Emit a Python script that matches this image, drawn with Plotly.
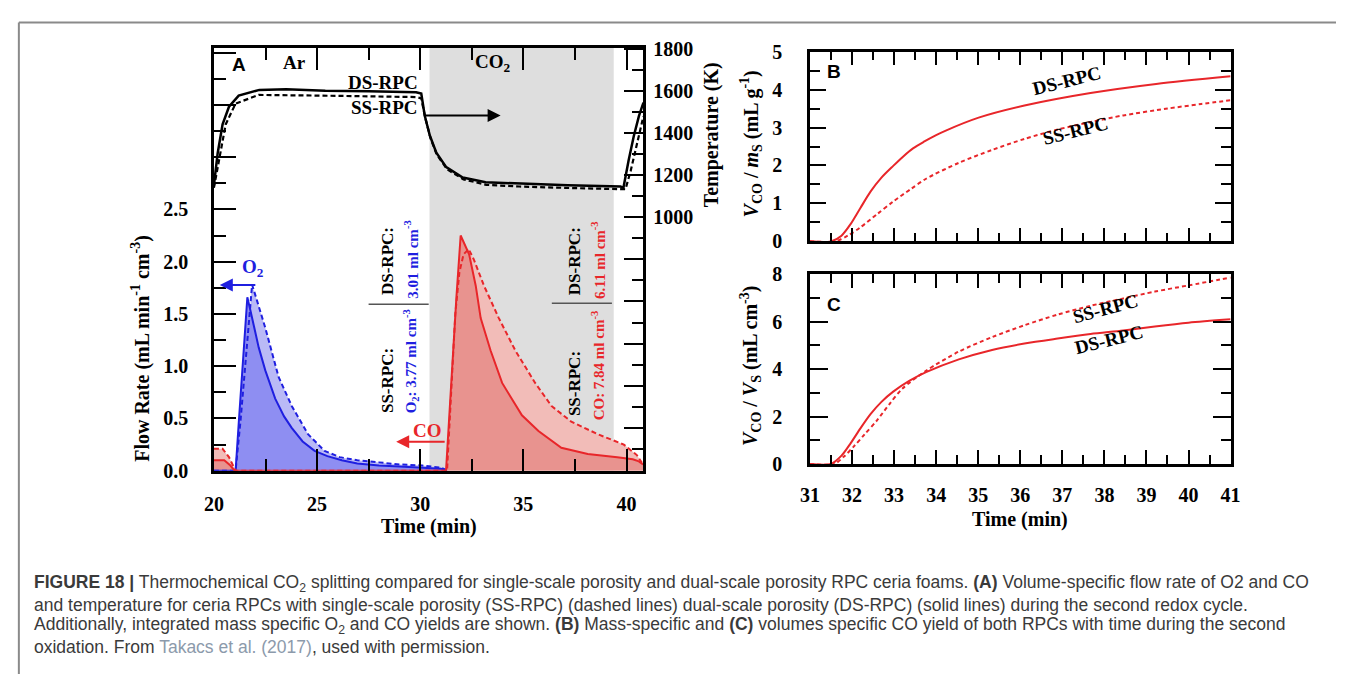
import plotly.graph_objects as go

# ---------------- data ----------------
# Panel A: temperature (K)
time_T_ds = [20.0, 20.18, 20.42, 20.73, 21.2, 22.2, 23.5, 25.4, 27.5, 29.8, 30.05, 30.22, 30.46, 30.78,
             31.26, 32.06, 33.17, 34.77, 37.16, 39.71, 39.85, 40.1, 40.35, 40.6, 40.82]
temp_ds = [1151, 1303, 1441, 1525, 1578, 1605, 1608, 1601, 1598, 1594, 1588, 1482, 1390, 1307,
           1238, 1189, 1166, 1159, 1152, 1146, 1140, 1270, 1385, 1480, 1545]
time_T_ss = [20.0, 20.25, 20.57, 21.05, 22.17, 25.0, 27.5, 29.8, 30.05, 30.25, 30.5, 30.8, 31.3, 32.1,
             33.2, 34.8, 37.2, 39.75, 39.95, 40.2, 40.45, 40.82]
temp_ss = [1140, 1273, 1441, 1540, 1581, 1578, 1575, 1571, 1565, 1470, 1375, 1298, 1228, 1180,
           1154, 1146, 1139, 1133, 1133, 1220, 1330, 1480]

# Panel A: O2 flow rate (mL min-1 cm-3)
time_o2_ds = [20.0, 21.05, 21.2, 21.4, 21.55, 21.62, 21.75, 21.93, 22.17, 22.49, 22.97, 23.4, 23.77,
              24.3, 24.88, 25.5, 26.2, 26.95, 28.0, 29.0, 30.1, 31.0, 31.3]
o2_ds = [0.0, 0.0, 0.45, 1.05, 1.5, 1.66, 1.55, 1.39, 1.18, 0.96, 0.69, 0.52, 0.41,
         0.28, 0.19, 0.14, 0.10, 0.07, 0.05, 0.04, 0.03, 0.02, 0.0]
time_o2_ss = [20.0, 21.05, 21.3, 21.55, 21.75, 21.85, 22.1, 22.5, 23.13, 23.77, 24.56, 25.36, 26.1,
              26.95, 28.0, 29.0, 30.1, 31.0, 31.35]
o2_ss = [0.0, 0.0, 0.5, 1.1, 1.55, 1.78, 1.62, 1.36, 0.90, 0.62, 0.35, 0.19, 0.13,
         0.10, 0.08, 0.06, 0.05, 0.03, 0.0]

# Panel A: CO flow rate (mL min-1 cm-3)
time_co_ds = [20.0, 20.5, 20.8, 21.0, 31.25, 31.5, 31.75, 31.96, 32.2, 32.37, 32.69, 32.93, 33.41,
              33.97, 34.93, 35.73, 36.84, 38.12, 39.55, 40.3, 40.6, 40.8]
co_ds = [0.10, 0.10, 0.05, 0.0, 0.0, 0.85, 1.65, 2.25, 2.15, 2.07, 1.77, 1.46, 1.15,
         0.84, 0.53, 0.38, 0.22, 0.16, 0.13, 0.11, 0.09, 0.06]
time_co_ss = [20.0, 20.42, 20.73, 21.05, 31.3, 31.5, 31.7, 31.9, 32.1, 32.35, 32.6, 33.09, 33.81,
              34.61, 35.57, 36.36, 37.32, 38.6, 39.87, 40.5, 40.8]
co_ss = [0.21, 0.21, 0.13, 0.0, 0.0, 0.8, 1.5, 1.9, 2.07, 2.12, 2.02, 1.77, 1.46,
         1.15, 0.84, 0.62, 0.47, 0.35, 0.25, 0.15, 0.06]

# Panel B: V_CO / m_S (mL g-1)
time_b_ds = [31.0, 31.5, 31.75, 31.97, 32.2, 32.44, 32.7, 32.98, 33.2, 33.45, 33.7, 34.0, 34.23,
             35.01, 36.1, 37.67, 39.23, 41.0]
b_ds = [0.0, 0.0, 0.15, 0.46, 0.88, 1.31, 1.68, 1.99, 2.22, 2.45, 2.62, 2.80, 2.92,
        3.26, 3.58, 3.91, 4.15, 4.35]
time_b_ss = [31.0, 31.6, 31.9, 32.2, 32.6, 32.98, 33.4, 33.76, 34.54, 35.33, 36.1, 36.9, 37.7, 38.45,
             39.5, 40.3, 41.0]
b_ss = [0.0, 0.0, 0.15, 0.37, 0.72, 1.05, 1.38, 1.65, 2.07, 2.41, 2.70, 2.95, 3.15, 3.32,
        3.50, 3.62, 3.72]

# Panel C: V_CO / V_S (mL cm-3)
time_c_ds = [31.0, 31.5, 31.75, 31.97, 32.2, 32.44, 32.7, 32.98, 33.36, 33.76, 34.54, 35.33, 36.1,
             36.89, 37.67, 38.45, 39.2, 40.0, 41.0]
c_ds = [0.0, 0.0, 0.35, 0.88, 1.5, 2.1, 2.62, 3.05, 3.5, 3.87, 4.41, 4.81, 5.08,
        5.29, 5.48, 5.63, 5.8, 5.96, 6.1]
time_c_ss = [31.0, 31.58, 31.8, 32.05, 32.3, 32.59, 32.9, 33.2, 33.76, 34.54, 35.33, 36.1, 36.89,
             37.67, 38.45, 39.2, 40.0, 41.0]
c_ss = [0.0, 0.0, 0.3, 0.75, 1.25, 1.83, 2.55, 3.18, 3.93, 4.74, 5.35, 5.85, 6.3,
        6.67, 6.98, 7.27, 7.53, 7.86]

# CO2 (oxidation) period
co2_start, co2_end = 30.45, 39.38

# tick labels
flow_ticks = [0.0, 0.5, 1.0, 1.5, 2.0, 2.5, 3.0, 3.5, 4.0]
flow_labels = ["0.0", "0.5", "1.0", "1.5", "2.0", "2.5", "", "", ""]
temp_ticks = [-200, 0, 200, 400, 600, 800, 1000, 1200, 1400, 1600, 1800]
temp_labels = ["", "", "", "", "", "", "1000", "1200", "1400", "1600", "1800"]
time_a_ticks = [20, 25, 30, 35, 40]
time_bc_ticks = [31, 32, 33, 34, 35, 36, 37, 38, 39, 40, 41]

# ---------------- styling ----------------
W, H = 1346, 685
def px(x):
    return x / W
def py(y):
    return 1 - y / H

SERIF = "Liberation Serif, Times New Roman, serif"
SANS = "Liberation Sans, Arial, sans-serif"
BLUE = "#1f1fe0"
RED = "#e8262a"
BLUE_DARK_FILL = "#8e8ef2"
BLUE_LIGHT_FILL = "#babaf6"
RED_DARK_FILL = "#e8938f"
RED_LIGHT_FILL = "#f2bcb8"
DASH = "5px,3px"

fig = go.Figure()

# fills (panel A)
fig.add_trace(go.Scatter(x=time_o2_ss, y=o2_ss, mode="lines", line=dict(width=0),
                         fill="tozeroy", fillcolor=BLUE_LIGHT_FILL, xaxis="x", yaxis="y", hoverinfo="skip"))
fig.add_trace(go.Scatter(x=time_o2_ds, y=o2_ds, mode="lines", line=dict(width=0),
                         fill="tozeroy", fillcolor=BLUE_DARK_FILL, xaxis="x", yaxis="y", hoverinfo="skip"))
fig.add_trace(go.Scatter(x=time_co_ss, y=co_ss, mode="lines", line=dict(width=0),
                         fill="tozeroy", fillcolor=RED_LIGHT_FILL, xaxis="x", yaxis="y", hoverinfo="skip"))
fig.add_trace(go.Scatter(x=time_co_ds, y=co_ds, mode="lines", line=dict(width=0),
                         fill="tozeroy", fillcolor=RED_DARK_FILL, xaxis="x", yaxis="y", hoverinfo="skip"))
# lines (panel A)
fig.add_trace(go.Scatter(x=time_o2_ss, y=o2_ss, mode="lines", line=dict(color=BLUE, width=2, dash=DASH),
                         xaxis="x", yaxis="y"))
fig.add_trace(go.Scatter(x=time_o2_ds, y=o2_ds, mode="lines", line=dict(color=BLUE, width=2),
                         xaxis="x", yaxis="y"))
fig.add_trace(go.Scatter(x=time_co_ss, y=co_ss, mode="lines", line=dict(color=RED, width=2, dash=DASH),
                         xaxis="x", yaxis="y"))
fig.add_trace(go.Scatter(x=time_co_ds, y=co_ds, mode="lines", line=dict(color=RED, width=2),
                         xaxis="x", yaxis="y"))
# temperature
fig.add_trace(go.Scatter(x=time_T_ss, y=temp_ss, mode="lines", line=dict(color="black", width=2.2, dash=DASH),
                         xaxis="x", yaxis="y2"))
fig.add_trace(go.Scatter(x=time_T_ds, y=temp_ds, mode="lines", line=dict(color="black", width=2.5),
                         xaxis="x", yaxis="y2"))
# panel B
fig.add_trace(go.Scatter(x=time_b_ss, y=b_ss, mode="lines", line=dict(color=RED, width=2, dash="4px,3px", shape="spline", smoothing=0.8),
                         xaxis="x2", yaxis="y3"))
fig.add_trace(go.Scatter(x=time_b_ds, y=b_ds, mode="lines", line=dict(color=RED, width=2, shape="spline", smoothing=0.8),
                         xaxis="x2", yaxis="y3"))
# panel C
fig.add_trace(go.Scatter(x=time_c_ss, y=c_ss, mode="lines", line=dict(color=RED, width=2, dash="4px,3px", shape="spline", smoothing=0.8),
                         xaxis="x3", yaxis="y4"))
fig.add_trace(go.Scatter(x=time_c_ds, y=c_ds, mode="lines", line=dict(color=RED, width=2, shape="spline", smoothing=0.8),
                         xaxis="x3", yaxis="y4"))

tickfont = dict(family=SERIF, size=20, color="black", weight="bold")
common = dict(showline=True, linecolor="black", linewidth=2.5, ticks="inside", tickcolor="black",
              tickwidth=2.2, showgrid=False, zeroline=False, tickfont=tickfont)

def minor(vals, ln):
    return dict(tickmode="array", tickvals=vals, ticks="inside", ticklen=ln, tickcolor="black", tickwidth=2.2, showgrid=False)

fig.update_layout(
    width=W, height=H, margin=dict(l=0, r=0, t=0, b=0),
    paper_bgcolor="white", plot_bgcolor="rgba(0,0,0,0)", showlegend=False,
    xaxis=dict(domain=[px(207), px(643)], range=[20, 40.82], anchor="y", mirror="ticks",
               tickmode="array", tickvals=time_a_ticks, ticklen=22,
               minor=minor([22.5, 27.5, 32.5, 37.5], 12), ticklabelstandoff=14, **common),
    yaxis=dict(domain=[py(475), py(38)], range=[0, 4.046], anchor="x",
               tickmode="array", tickvals=flow_ticks, ticktext=flow_labels, ticklen=22,
               minor=minor([0.25, 0.75, 1.25, 1.75, 2.25, 2.75, 3.25, 3.75], 12),
               ticklabelstandoff=19, **common),
    yaxis2=dict(domain=[py(475), py(38)], range=[-204, 1805], anchor="x", overlaying="y", side="right",
                tickmode="array", tickvals=temp_ticks, ticktext=temp_labels, ticklen=20,
                minor=minor([-100, 100, 300, 500, 700, 900, 1100, 1300, 1500, 1700], 12),
                ticklabelstandoff=3, **common),
    xaxis2=dict(domain=[px(812), px(1239)], range=[31, 41], anchor="y3", mirror="ticks",
                tickmode="array", tickvals=time_bc_ticks, ticklen=14, showticklabels=False,
                minor=minor([31.5 + i for i in range(10)], 9), **common),
    yaxis3=dict(domain=[py(238), py(42)], range=[0, 5], anchor="x2", mirror="ticks",
                tickmode="array", tickvals=[0, 1, 2, 3, 4, 5], ticklen=16,
                minor=minor([0.5, 1.5, 2.5, 3.5, 4.5], 10), ticklabelstandoff=21, **common),
    xaxis3=dict(domain=[px(812), px(1239)], range=[31, 41], anchor="y4", mirror="ticks",
                tickmode="array", tickvals=time_bc_ticks, ticklen=14,
                minor=minor([31.5 + i for i in range(10)], 9), ticklabelstandoff=11, **common),
    yaxis4=dict(domain=[py(468), py(272)], range=[0, 8], anchor="x3", mirror="ticks",
                tickmode="array", tickvals=[0, 2, 4, 6, 8], ticklen=18,
                minor=minor([1, 3, 5, 7], 10), ticklabelstandoff=21, **common),
)

shapes = [
    dict(type="rect", xref="x", yref="y domain", x0=co2_start, x1=co2_end, y0=0, y1=1,
         fillcolor="#dedede", line=dict(width=0), layer="below"),
    # frame of the page
    dict(type="line", xref="paper", yref="paper", x0=px(9), x1=1, y0=py(12), y1=py(12),
         line=dict(color="#8a8a8a", width=2)),
    dict(type="line", xref="paper", yref="paper", x0=px(9), x1=px(9), y0=py(12), y1=0,
         line=dict(color="#8a8a8a", width=2)),
    # separators of the yield labels
    dict(type="line", xref="paper", yref="paper", x0=px(364), x1=px(425), y0=py(303), y1=py(303),
         line=dict(color="#555555", width=1.5)),
    dict(type="line", xref="paper", yref="paper", x0=px(550), x1=px(611), y0=py(302), y1=py(302),
         line=dict(color="#555555", width=1.5)),
]
fig.update_layout(shapes=shapes)

ann = []
def text(x, y, s, size=20, color="black", family=SERIF, angle=0, xanchor="center", yanchor="middle", **kw):
    ann.append(dict(x=px(x), y=py(y), xref="paper", yref="paper", text=s, showarrow=False,
                    font=dict(family=family, size=size, color=color), textangle=angle,
                    xanchor=xanchor, yanchor=yanchor, **kw))

def arrow(x0, y0, x1, y1, color):
    ann.append(dict(x=px(x1), y=py(y1), ax=x0 - x1, ay=y0 - y1, xref="paper", yref="paper",
                    axref="pixel", ayref="pixel", text="", showarrow=True, arrowhead=2,
                    arrowsize=1.3, arrowwidth=2, arrowcolor=color))

# panel A texts
text(232, 55, "<b>A</b>", size=19, family=SANS)
text(289, 53, "<b>Ar</b>", size=19)
text(490, 54, "<b>CO<sub>2</sub></b>", size=19)
text(416, 74, "<b>DS-RPC</b>", size=19, xanchor="right")
text(416, 100, "<b>SS-RPC</b>", size=19, xanchor="right")
arrow(421, 108, 498, 108, "black")
text(247, 266, "<b>O<sub>2</sub></b>", size=19, color=BLUE)
arrow(250, 283, 213, 283, BLUE)
text(424, 433, "<b>CO</b>", size=19, color=RED)
arrow(442, 445, 392, 445, RED)
text(383, 258, "<b>DS-RPC:</b>", size=17, angle=-90)
text(407, 257, "<b>3.01 ml cm<sup>-3</sup></b>", size=15, color=BLUE, angle=-90)
text(383, 382, "<b>SS-RPC:</b>", size=17, angle=-90)
text(407, 362, "<b>O<sub>2</sub>: 3.77 ml cm<sup>-3</sup></b>", size=15, color=BLUE, angle=-90)
text(573, 258, "<b>DS-RPC:</b>", size=17, angle=-90)
text(597, 257, "<b>6.11 ml cm<sup>-3</sup></b>", size=15, color=RED, angle=-90)
text(573, 385, "<b>SS-RPC:</b>", size=17, angle=-90)
text(597, 366, "<b>CO: 7.84 ml cm<sup>-3</sup></b>", size=15, color=RED, angle=-90)
text(133, 349, "<b>Flow Rate (mL min<sup>-1</sup> cm<sup>-3</sup>)</b>", size=20, angle=-90)
text(712, 128, "<b>Temperature (K)</b>", size=20, angle=-90)
text(425, 533, "<b>Time (min)</b>", size=20)

# panel B / C texts
text(836, 63, "<b>B</b>", size=19, family=SANS)
text(836, 303, "<b>C</b>", size=19, family=SANS)
text(1073, 72, "<b>DS-RPC</b>", size=19, angle=-14)
text(1082, 123, "<b>SS-RPC</b>", size=19, angle=-14)
text(1112, 307, "<b>SS-RPC</b>", size=19, angle=-15)
text(1116, 339, "<b>DS-RPC</b>", size=19, angle=-14)
text(752, 137, "<b><i>V</i><sub>CO</sub> / <i>m</i><sub>S</sub> (mL g<sup>-1</sup>)</b>", size=20, angle=-90)
text(752, 367, "<b><i>V</i><sub>CO</sub> / <i>V</i><sub>S</sub> (mL cm<sup>-3</sup>)</b>", size=20, angle=-90)
text(1025, 525, "<b>Time (min)</b>", size=20)

# caption
CAP = "Liberation Sans, Arial, sans-serif"
cap_lines = [
    "<b>FIGURE 18 |</b> Thermochemical CO<sub>2</sub> splitting compared for single-scale porosity and dual-scale porosity RPC ceria foams. <b>(A)</b> Volume-specific flow rate of O2 and CO",
    "and temperature for ceria RPCs with single-scale porosity (SS-RPC) (dashed lines) dual-scale porosity (DS-RPC) (solid lines) during the second redox cycle.",
    "Additionally, integrated mass specific O<sub>2</sub> and CO yields are shown. <b>(B)</b> Mass-specific and <b>(C)</b> volumes specific CO yield of both RPCs with time during the second",
    "oxidation. From <span style='color:#8c9aab'>Takacs et al. (2017)</span>, used with permission.",
]
for i, line in enumerate(cap_lines):
    text(22, 592 + 21.6 * i, line, size=17.5, color="#3a3a3a", family=CAP, xanchor="left")

fig.update_layout(annotations=ann)
fig.write_html("out.html")
